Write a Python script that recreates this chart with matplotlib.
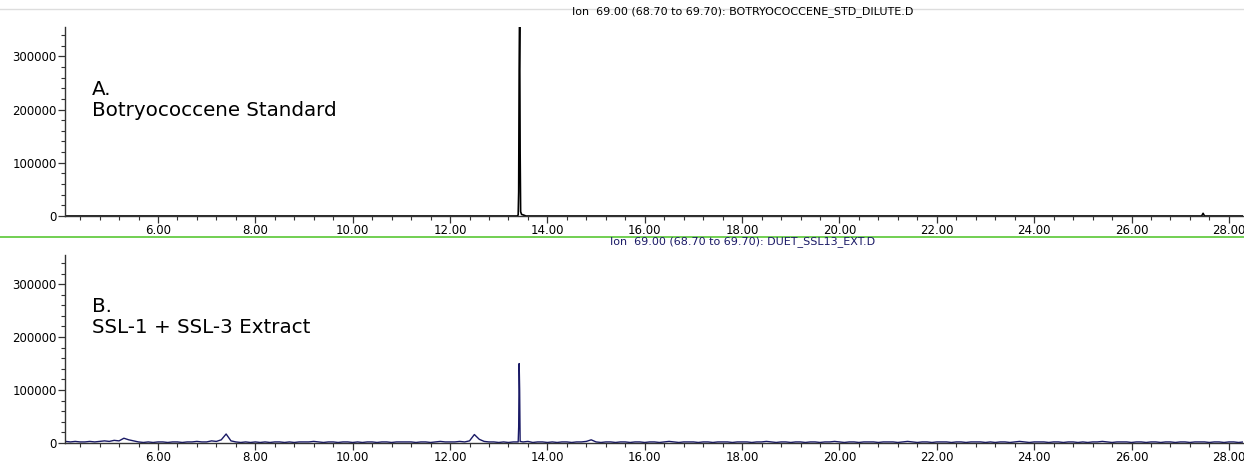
import numpy as np
import matplotlib.pyplot as plt
from matplotlib.ticker import MultipleLocator, FormatStrFormatter
from matplotlib.lines import Line2D

# --- data --------------------------------------------------------------
title_a = "Ion  69.00 (68.70 to 69.70): BOTRYOCOCCENE_STD_DILUTE.D"
title_b = "Ion  69.00 (68.70 to 69.70): DUET_SSL13_EXT.D"
label_a = "A.\nBotryococcene Standard"
label_b = "B.\nSSL-1 + SSL-3 Extract"

# standard: flat baseline + one sharp peak
std_time = [4.09, 13.38, 13.40, 13.41, 13.42, 13.43, 13.44, 13.45, 13.47, 13.52, 13.56,
            27.44, 27.47, 27.50, 28.30]
std_abund = [0, 0, 2000, 45000, 272000, 360000, 120000, 8000, 3000, 1500, 0,
             0, 5000, 0, 0]

# extract: baseline noise every 0.1 min (in thousands), 4.1 .. 28.3
ext_noise_k = [
    3, 2, 3, 2, 2, 3, 2, 3, 4, 3,        # 4.1-5.0
    5, 4, 9, 6, 4, 2, 1, 2, 1, 2,        # 5.1-6.0
    2, 1, 2, 2, 1, 2, 2, 3, 2, 2,        # 6.1-7.0
    4, 3, 6, 17, 4, 2, 1, 2, 1, 2,       # 7.1-8.0
    1, 2, 1, 2, 2, 1, 2, 1, 2, 2,        # 8.1-9.0
    2, 3, 2, 1, 2, 2, 1, 2, 2, 1,        # 9.1-10.0
    2, 1, 2, 2, 1, 2, 2, 1, 2, 2,        # 10.1-11.0
    2, 2, 1, 2, 2, 1, 2, 3, 2, 2,        # 11.1-12.0
    2, 3, 2, 4, 16, 7, 3, 2, 2, 1,       # 12.1-13.0
    2, 1, 2, 2, 2, 3, 1, 2, 2, 1,        # 13.1-14.0
    2, 1, 2, 2, 1, 2, 2, 3, 6, 2,        # 14.1-15.0
    1, 2, 2, 1, 2, 2, 1, 2, 2, 1,        # 15.1-16.0
    2, 2, 1, 2, 3, 2, 1, 2, 2, 2,        # 16.1-17.0
    1, 2, 2, 1, 2, 2, 2, 1, 2, 2,        # 17.1-18.0
    2, 1, 2, 2, 3, 2, 1, 2, 2, 1,        # 18.1-19.0
    2, 2, 1, 2, 2, 1, 2, 2, 3, 2,        # 19.1-20.0
    1, 2, 2, 1, 2, 2, 2, 1, 2, 2,        # 20.1-21.0
    2, 1, 2, 3, 2, 1, 2, 2, 1, 2,        # 21.1-22.0
    2, 2, 1, 2, 2, 1, 2, 2, 2, 1,        # 22.1-23.0
    2, 1, 2, 2, 1, 2, 3, 2, 1, 2,        # 23.1-24.0
    2, 2, 1, 2, 2, 1, 2, 2, 1, 2,        # 24.1-25.0
    1, 2, 2, 3, 2, 1, 2, 2, 2, 1,        # 25.1-26.0
    2, 2, 1, 2, 2, 1, 2, 2, 1, 2,        # 26.1-27.0
    2, 1, 2, 2, 2, 1, 2, 2, 1, 2,        # 27.1-28.0
    2, 1, 2,                             # 28.1-28.3
]
ext_peak_time = [13.41, 13.42, 13.43, 13.44]
ext_peak_abund = [30000, 150000, 100000, 3000]

# --- build series -------------------------------------------------------
ext_grid = np.round(4.1 + 0.1 * np.arange(len(ext_noise_k)), 2)
ext_time = np.concatenate([ext_grid, ext_peak_time])
ext_abund = np.concatenate([np.array(ext_noise_k) * 1000.0, ext_peak_abund])
order = np.argsort(ext_time)
ext_time, ext_abund = ext_time[order], ext_abund[order]

narrow = ["Liberation Sans Narrow", "DejaVu Sans Condensed", "DejaVu Sans"]
navy = "#1a1a66"

W, H = 1244, 465
fig = plt.figure(figsize=(W / 100, H / 100), dpi=100)


def px_axes(left, top, right, bottom):
    return fig.add_axes([left / W, 1 - bottom / H, (right - left) / W, (bottom - top) / H])


def style(ax):
    ax.set_xlim(4.09, 28.29)
    ax.set_ylim(0, 355000)
    for s in ("top", "right"):
        ax.spines[s].set_visible(False)
    for s in ("left", "bottom"):
        ax.spines[s].set_color("#333333")
        ax.spines[s].set_linewidth(1.0)
    ax.xaxis.set_major_locator(MultipleLocator(2))
    ax.xaxis.set_minor_locator(MultipleLocator(0.4))
    ax.xaxis.set_major_formatter(FormatStrFormatter("%.2f"))
    ax.yaxis.set_major_locator(MultipleLocator(100000))
    ax.yaxis.set_minor_locator(MultipleLocator(20000))
    ax.tick_params(axis="both", which="major", length=5, width=0.9, color="#333333",
                   labelsize=8.5, pad=1)
    ax.tick_params(axis="both", which="minor", length=3, width=0.8, color="#333333")
    for lab in ax.get_xticklabels() + ax.get_yticklabels():
        lab.set_family(narrow)
    ax.patch.set_alpha(0)


ax1 = px_axes(65, 27, 1243, 216)
ax1.plot(std_time, std_abund, color="black", lw=1.2, clip_on=True)
style(ax1)
ax1.text(92 / W, 1 - 100 / H, label_a, transform=fig.transFigure, fontsize=14.3,
         family="DejaVu Sans", va="center", ha="left", linespacing=1.15)

ax2 = px_axes(65, 255, 1243, 443)
ax2.plot(ext_time, ext_abund, color=navy, lw=1.0)
style(ax2)
ax2.text(92 / W, 1 - 317 / H, label_b, transform=fig.transFigure, fontsize=14.3,
         family="DejaVu Sans", va="center", ha="left", linespacing=1.15)

fig.text(743 / W, 1 - 12 / H, title_a, ha="center", va="center", fontsize=8,
         family=narrow, color="black")
fig.text(743 / W, 1 - 242 / H, title_b, ha="center", va="center", fontsize=8,
         family=narrow, color=navy)

# separator lines
fig.add_artist(Line2D([0, 1], [1 - 9 / H, 1 - 9 / H], transform=fig.transFigure,
                      color="#dddddd", lw=1.0))
fig.add_artist(Line2D([0, 1], [1 - 237 / H, 1 - 237 / H], transform=fig.transFigure,
                      color="#66cc44", lw=1.3))

fig.savefig("out.png", dpi=100)
